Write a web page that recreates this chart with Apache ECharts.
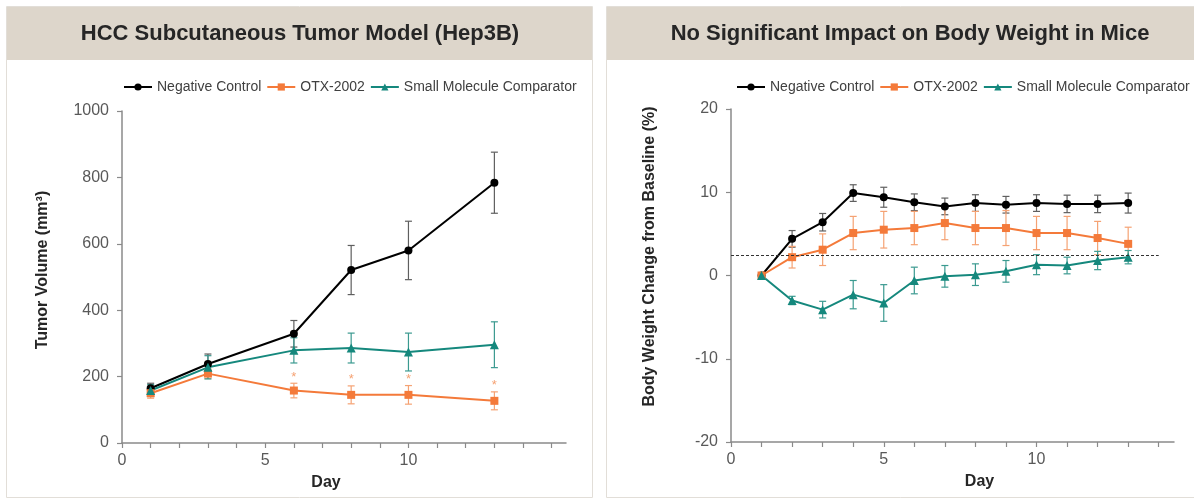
<!DOCTYPE html>
<html><head><meta charset="utf-8">
<script src="https://cdn.jsdelivr.net/npm/echarts@6/dist/echarts.min.js"></script>
<style>html,body{margin:0;padding:0;background:#fff}#c{width:1194px;height:500px}</style>
</head><body><div id="c"></div>
<script>
// ---------- data ----------
const seriesNames = ['Negative Control', 'OTX-2002', 'Small Molecule Comparator'];
const panelTitles = ['HCC Subcutaneous Tumor Model (Hep3B)', 'No Significant Impact on Body Weight in Mice'];

// Left: tumor volume (mm³)
const tumorDays = [1, 3, 6, 8, 10, 13];
const tumorNeg = [165, 238, 329, 521, 580, 784];
const tumorNegErr = [15, 30, 40, 74, 88, 92];
const tumorOtx = [150, 209, 158, 145, 145, 127];
const tumorOtxErr = [15, 15, 22, 27, 28, 27];
const tumorSmc = [158, 228, 279, 286, 274, 296];
const tumorSmcErr = [18, 35, 38, 45, 57, 69];
const tumorOtxSignifDays = [6, 8, 10, 13];
const tumorYTicks = [0, 200, 400, 600, 800, 1000];

// Right: body weight change (%)
const bwDays = [1, 2, 3, 4, 5, 6, 7, 8, 9, 10, 11, 12, 13];
const bwNeg = [0, 4.4, 6.4, 9.9, 9.4, 8.8, 8.3, 8.7, 8.5, 8.7, 8.6, 8.6, 8.7];
const bwNegErr = [0, 1.0, 1.05, 1.0, 1.2, 1.0, 1.0, 1.0, 1.0, 1.0, 1.05, 1.05, 1.2];
const bwOtx = [0, 2.2, 3.1, 5.1, 5.5, 5.7, 6.3, 5.7, 5.7, 5.1, 5.1, 4.5, 3.8];
const bwOtxErr = [0, 1.3, 1.9, 2.0, 2.2, 2.0, 2.0, 2.0, 2.1, 2.0, 2.0, 2.0, 2.0];
const bwSmc = [0, -3.0, -4.1, -2.3, -3.3, -0.6, -0.1, 0.1, 0.5, 1.3, 1.2, 1.8, 2.2];
const bwSmcErr = [0, 0.5, 1.0, 1.7, 2.2, 1.6, 1.3, 1.3, 1.3, 1.2, 1.0, 1.1, 0.8];
const bwRefLine = 2.4;
const bwYTicks = [-20, -10, 0, 10, 20];

// x axis ticks / labels
const leftXTicks = [0,1,2,3,4,5,6,7,8,9,10,11,12,13,14,15];
const rightXTicks = [0,1,2,3,4,5,6,7,8,9,10,11,12,13,14];
const xLabels = [0, 5, 10];

// ---------- styling ----------
const FONT = "'Liberation Sans', Arial, Helvetica, sans-serif";
const colors = ['#000000', '#f47a3a', '#15887d'];
const errColors = ['#5f5f5f', '#f5a273', '#3b9a90'];
const symbols = ['circle', 'rect', 'triangle'];
const symbolSizes = [8, 8, 9];
const AXIS = '#8a8a8a';

function pairs(xs, ys) { return xs.map((x, i) => [x, ys[i]]); }
function triples(xs, ys, es) { return xs.map((x, i) => [x, ys[i], es[i]]); }

function errorBarRender(color) {
  return function (params, api) {
    const x = api.value(0), y = api.value(1), e = api.value(2);
    if (!e) return null;
    const top = api.coord([x, y + e]);
    const bot = api.coord([x, y - e]);
    const w = 3.5;
    const st = { stroke: color, lineWidth: 1.2 };
    return { type: 'group', children: [
      { type: 'line', shape: { x1: top[0], y1: top[1], x2: bot[0], y2: bot[1] }, style: st },
      { type: 'line', shape: { x1: top[0] - w, y1: top[1], x2: top[0] + w, y2: top[1] }, style: st },
      { type: 'line', shape: { x1: bot[0] - w, y1: bot[1], x2: bot[0] + w, y2: bot[1] }, style: st }
    ]};
  };
}
function asteriskRender(color) {
  return function (params, api) {
    const x = api.value(0), y = api.value(1), e = api.value(2);
    const p = api.coord([x, y + e]);
    return { type: 'text', style: { text: '*', x: p[0], y: p[1] - 6, fill: color,
      font: '13px ' + FONT, align: 'center', verticalAlign: 'middle' } };
  };
}

function lineSeries(i, xi, yi, xs, ys, extra) {
  return Object.assign({
    type: 'line', name: seriesNames[i], xAxisIndex: xi, yAxisIndex: yi,
    data: pairs(xs, ys), symbol: symbols[i], symbolSize: symbolSizes[i],
    itemStyle: { color: colors[i] }, lineStyle: { color: colors[i], width: 2 },
    z: 4, animation: false
  }, extra || {});
}
function errSeries(i, xi, yi, xs, ys, es) {
  return { type: 'custom', name: seriesNames[i], xAxisIndex: xi, yAxisIndex: yi,
    data: triples(xs, ys, es), renderItem: errorBarRender(errColors[i]), z: 2, animation: false, silent: true };
}

const sigData = tumorOtxSignifDays.map(d => {
  const k = tumorDays.indexOf(d);
  return [d, tumorOtx[k], tumorOtxErr[k]];
});

function xAxis(gi, ticks, max, nameShift) {
  return {
    type: 'value', gridIndex: gi, min: 0, max: max, interval: 1,
    name: 'Day', nameLocation: 'middle', nameGap: 32,
    nameTextStyle: { fontFamily: FONT, fontSize: 16, fontWeight: 'bold', color: '#262626',
      padding: nameShift > 0 ? [0, 0, 0, 2 * nameShift] : [0, -2 * nameShift, 0, 0] },
    axisLine: { show: true, onZero: false, lineStyle: { color: AXIS, width: 1.5 } },
    axisTick: { show: true, length: 5, customValues: ticks, lineStyle: { color: AXIS, width: 1.2 } },
    axisLabel: { customValues: xLabels, margin: 10, fontFamily: FONT, fontSize: 16, color: '#595959' },
    splitLine: { show: false }
  };
}
function yAxis(gi, min, max, interval, ticks, name, gap, upShift) {
  return {
    type: 'value', gridIndex: gi, min: min, max: max, interval: interval,
    name: name, nameLocation: 'middle', nameGap: gap, nameRotate: 90,
    nameTextStyle: { fontFamily: FONT, fontSize: 16, fontWeight: 'bold', color: '#262626',
      padding: [0, 0, 0, 2 * upShift] },
    axisLine: { show: true, onZero: false, lineStyle: { color: AXIS, width: 1.5 } },
    axisTick: { show: true, length: 5, customValues: ticks, lineStyle: { color: AXIS, width: 1.2 } },
    axisLabel: { customValues: ticks, formatter: v => String(v), margin: 13, fontFamily: FONT, fontSize: 16, color: '#595959' },
    splitLine: { show: false }
  };
}

const legendText = { fontFamily: FONT, fontSize: 14, color: '#404040' };

const option = {
  animation: false,
  backgroundColor: '#ffffff',
  textStyle: { fontFamily: FONT },
  graphic: [
    { type: 'rect', shape: { x: 6.5, y: 6.5, width: 586, height: 491 }, style: { fill: '#fff', stroke: '#e2ded8', lineWidth: 1 }, z: -10, silent: true },
    { type: 'rect', shape: { x: 7, y: 7, width: 585, height: 53 }, style: { fill: '#ddd6cb' }, z: -9, silent: true },
    { type: 'rect', shape: { x: 606.5, y: 6.5, width: 620, height: 491 }, style: { fill: '#fff', stroke: '#e2ded8', lineWidth: 1 }, z: -10, silent: true },
    { type: 'rect', shape: { x: 607, y: 7, width: 620, height: 53 }, style: { fill: '#ddd6cb' }, z: -9, silent: true },
    { type: 'text', x: 300, y: 34, style: { text: panelTitles[0], font: 'bold 22px ' + FONT, fill: '#262626', align: 'center', verticalAlign: 'middle' }, z: 10 },
    { type: 'text', x: 910, y: 34, style: { text: panelTitles[1], font: 'bold 22px ' + FONT, fill: '#262626', align: 'center', verticalAlign: 'middle' }, z: 10 }
  ],
  legend: [
    { data: seriesNames, left: 123, top: 80, width: 480, padding: 0, itemWidth: 28, itemHeight: 9, itemGap: 5,
      textStyle: legendText, selectedMode: false },
    { data: seriesNames, left: 736, top: 80, width: 480, padding: 0, itemWidth: 28, itemHeight: 9, itemGap: 5,
      textStyle: legendText, selectedMode: false }
  ],
  grid: [
    { left: 122, top: 111, width: 444, height: 332, containLabel: false },
    { left: 731, top: 109, width: 443, height: 333, containLabel: false }
  ],
  xAxis: [ xAxis(0, leftXTicks, 15.5, -18), xAxis(1, rightXTicks, 14.5, 27) ],
  yAxis: [
    yAxis(0, 0, 1000, 200, tumorYTicks, 'Tumor Volume (mm³)', 71, 7),
    yAxis(1, -20, 20, 10, bwYTicks, 'Body Weight Change from Baseline (%)', 73, 19)
  ],
  series: [
    lineSeries(0, 0, 0, tumorDays, tumorNeg),
    lineSeries(1, 0, 0, tumorDays, tumorOtx),
    lineSeries(2, 0, 0, tumorDays, tumorSmc),
    lineSeries(0, 1, 1, bwDays, bwNeg, {
      markLine: { silent: true, symbol: 'none', label: { show: false },
        lineStyle: { color: '#333333', type: [3, 2], width: 1 },
        data: [[{ coord: [0, bwRefLine] }, { coord: [14, bwRefLine] }]] }
    }),
    lineSeries(1, 1, 1, bwDays, bwOtx),
    lineSeries(2, 1, 1, bwDays, bwSmc),
    errSeries(0, 0, 0, tumorDays, tumorNeg, tumorNegErr),
    errSeries(1, 0, 0, tumorDays, tumorOtx, tumorOtxErr),
    errSeries(2, 0, 0, tumorDays, tumorSmc, tumorSmcErr),
    errSeries(0, 1, 1, bwDays, bwNeg, bwNegErr),
    errSeries(1, 1, 1, bwDays, bwOtx, bwOtxErr),
    errSeries(2, 1, 1, bwDays, bwSmc, bwSmcErr),
    { type: 'custom', name: seriesNames[1], xAxisIndex: 0, yAxisIndex: 0, data: sigData,
      renderItem: asteriskRender(errColors[1]), z: 3, silent: true, animation: false }
  ]
};

const chart = echarts.init(document.getElementById('c'), null, { renderer: 'canvas' });
chart.setOption(option);
</script>
</body></html>
